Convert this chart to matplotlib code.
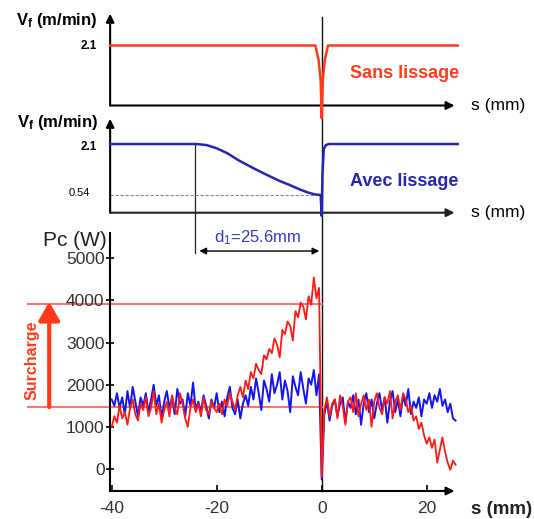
import numpy as np
import matplotlib
matplotlib.use("Agg")
import matplotlib.pyplot as plt

plt.rcParams["font.family"] = ["Liberation Sans", "DejaVu Sans"]
plt.rcParams["mathtext.fontset"] = "custom"
plt.rcParams["mathtext.rm"] = "Liberation Sans"
plt.rcParams["mathtext.bf"] = "Liberation Sans:bold"
plt.rcParams["mathtext.it"] = "Liberation Sans:italic"

# ---- data ----
# Vf without smoothing (red, top panel)
s_sans = [-40.3, -1.2, -0.6, -0.2, 0.0, 0.2, 0.6, 1.2, 25.9]
vf_sans = [2.1, 2.1, 1.6, 0.9, -0.44, 0.9, 1.6, 2.1, 2.1]

# Vf with smoothing (blue, middle panel)
s_avec = [-40.3, -23.9, -22.0, -20.0, -18.0, -15.8, -13.0, -10.5, -8.0, -6.0,
          -4.0, -2.5, -1.3, -0.2, 0.0, 0.15, 0.4, 0.8, 1.4, 25.9]
vf_avec = [2.1, 2.1, 2.07, 1.97, 1.82, 1.60, 1.36, 1.16, 0.97, 0.84,
           0.70, 0.61, 0.56, 0.54, -0.1, 1.2, 1.95, 2.07, 2.1, 2.1]

# cutting power Pc (W), sampled every 0.5 mm
s_left = np.arange(-40, 0, 0.5)
s_right = np.arange(0.5, 26, 0.5)
s_pc = np.concatenate([s_left, [0.0], s_right])

pc_sans_left = [
    1000, 1250, 1100, 1500, 1200, 1350, 1050, 1450, 1650, 1300, 1150, 1550, 1400, 1700, 1250, 1450, 1850, 1300, 1550, 1100, 1400,
    1600, 1250, 1750, 1450, 1300, 1800, 1550, 1200, 1000, 1450, 1650, 1350, 1550, 1250, 1700, 1400, 1300, 1600, 1450, 1350,
    1550, 1300, 1650, 1500, 1800, 1600, 1400, 1750, 1950, 1700,
    2100, 1900, 2300, 2150, 2500, 2350, 2250, 2700, 2600, 2850,
    2750, 3100, 2950, 2650, 3300, 3200, 3500, 3400, 3050, 3750,
    3600, 3950, 3850, 3550, 4100, 3900, 4550, 4050, 4300,
]
pc_sans_right = [
    1400, 1700, 1250, 1550, 1650, 1200, 1750, 1500, 1050, 1600,
    1700, 1350, 1800, 1250, 1550, 1750, 1400, 1650, 1000, 1600,
    1800, 1450, 1300, 1700, 1550, 1850, 1200, 1600, 1750, 1400,
    1800, 1650, 1350, 1500, 1150, 1250, 950, 1100, 800, 600,
    750, 500, 700, 150, 450, 750, 400, 150, -20, 200, 100,
]
pc_avec_left = [
    1650, 1500, 1800, 1450, 1700, 1300, 1850, 1450, 1950, 1600, 1250, 1700, 1500, 1800, 1350, 1650, 2000, 1500, 1750, 1200, 1600,
    1850, 1450, 1700, 1300, 1900, 1550, 1650, 1250, 1800, 1500, 2050, 1400, 1600, 1350, 1750, 1500, 1200, 1650, 1450, 1800,
    1350, 1600, 1250, 1700, 1950, 1450, 1300, 1650, 1200, 1550,
    1750, 1500, 1950, 1650, 2150, 1800, 1400, 2100, 1900, 1600,
    2250, 1800, 2000, 2300, 1650, 2100, 1850, 1350, 2200, 1950,
    1750, 2300, 1900, 1550, 2150, 2000, 2350, 1750, 2250,
]
pc_avec_right = [
    1300, 1600, 1150, 1500, 1650, 1250, 1550, 1700, 1100, 1600,
    1450, 1750, 1300, 1650, 1050, 1550, 1800, 1350, 1650, 1200,
    1550, 1800, 1400, 1700, 1100, 1600, 1850, 1350, 1650, 1250,
    1750, 1500, 1900, 1300, 1600, 1450, 1700, 1250, 1650, 1550,
    1800, 1450, 1750, 1600, 1900, 1500, 1650, 1350, 1550, 1200, 1150,
]
pc_sans = pc_sans_left + [-200] + pc_sans_right
pc_avec = pc_avec_left + [-250] + pc_avec_right

pc_ticks = [0, 1000, 2000, 3000, 4000, 5000]
s_ticks = [-40, -20, 0, 20]
overload_low, overload_high = 1470, 3910
d1_start = -24.1

# ---- layout helpers (figure pixels) ----
W, H = 534, 519
X0_PX, PX_PER_MM = 321.7, 5.25
RED = "#ff1a10"
ORANGE = "#ff3a1a"
BLUE = "#1414f0"
NAVY = "#2626b4"

fig = plt.figure(figsize=(W / 100, H / 100), dpi=100)


def add_panel(top, bottom, ref_px, ref_val, px_per_unit):
    ax = fig.add_axes([100 / W, 1 - bottom / H, 370 / W, (bottom - top) / H])
    ax.set_xlim((100 - X0_PX) / PX_PER_MM, (470 - X0_PX) / PX_PER_MM)
    ax.set_ylim(ref_val - (bottom - ref_px) / px_per_unit,
                ref_val + (ref_px - top) / px_per_unit)
    ax.patch.set_alpha(0)
    return ax


def arrow_axis(ax, start, end, color="black", lw=1.5):
    ax.annotate("", xy=end, xytext=start, annotation_clip=False,
                arrowprops=dict(arrowstyle="-|>", color=color, lw=lw,
                                mutation_scale=12, shrinkA=0, shrinkB=0))


# bottom panel first so its long guide lines sit under the top panels
ax3 = add_panel(228, 500, 469, 0, 0.04213)
ax1 = add_panel(5, 125, 105.5, 0, 28.57)
ax2 = add_panel(112, 225, 212.7, 0, 32.7)

# ---- top panel ----
ax1.axis("off")
arrow_axis(ax1, (-40.3, 0), (-40.3, 3.21))
arrow_axis(ax1, (-40.3, 0), (25.3, 0))
ax1.plot(s_sans, vf_sans, color=ORANGE, lw=1.8, clip_on=False, zorder=3)
ax1.text(-50.5, 2.975, r"V$_\mathbf{f}$ (m/min)", fontsize=12, fontweight="bold",
         ha="center", va="center")
ax1.text(-44.3, 2.1, "2.1", fontsize=8.5, fontweight="bold", ha="center", va="center")
ax1.text(15.8, 1.12, "Sans lissage", fontsize=13, fontweight="bold", color=ORANGE,
         ha="center", va="center")
ax1.text(33.6, 0.0, "s (mm)", fontsize=12.5, ha="center", va="center")

# ---- middle panel ----
ax2.axis("off")
arrow_axis(ax2, (-40.3, 0), (-40.3, 2.87))
arrow_axis(ax2, (-40.3, 0), (25.3, 0), color="#222222")
ax2.plot([-40.3, -0.3], [0.54, 0.54], color="#888888", lw=0.8, ls=(0, (3, 1.5)))
ax2.plot(s_avec, vf_avec, color=NAVY, lw=1.8, clip_on=False, zorder=3)
ax2.text(-50.2, 2.77, r"V$_\mathbf{f}$ (m/min)", fontsize=12, fontweight="bold",
         ha="center", va="center")
ax2.text(-44.3, 2.0, "2.1", fontsize=8.5, fontweight="bold", ha="center", va="center")
ax2.text(-46.1, 0.6, "0.54", fontsize=8, ha="center", va="center")
ax2.text(15.8, 0.94, "Avec lissage", fontsize=13, fontweight="bold", color=NAVY,
         ha="center", va="center")
ax2.text(33.6, 0.02, "s (mm)", fontsize=12.5, ha="center", va="center")

# ---- bottom panel ----
for side in ("top", "right"):
    ax3.spines[side].set_visible(False)
ax3.spines["left"].set_position(("data", -40.3))
ax3.spines["left"].set_bounds(-522, 5594)
ax3.spines["bottom"].set_position(("data", -522))
ax3.spines["bottom"].set_bounds(-40.3, 24)
for side in ("left", "bottom"):
    ax3.spines[side].set_linewidth(1.5)
arrow_axis(ax3, (23, -522), (25.3, -522))

ax3.set_yticks(pc_ticks)
ax3.set_yticklabels([str(t) for t in pc_ticks])
ax3.set_xticks(s_ticks)
ax3.set_xticklabels([str(t) for t in s_ticks])
ax3.tick_params(axis="y", direction="inout", length=6, width=1.2, pad=1,
                labelsize=12.5, labelcolor="#333333")
ax3.tick_params(axis="x", direction="in", length=4, width=1.2, pad=7,
                labelsize=12.5, labelcolor="#333333")

# guide lines through the three panels
ax3.plot([0, 0], [-522, 10729], color="#111111", lw=1.0, clip_on=False, zorder=1)
ax3.plot([d1_start, d1_start], [5120, 7714], color="#222222", lw=0.9,
         clip_on=False, zorder=1)

ax3.plot(s_pc, pc_avec, color=BLUE, lw=1.4, zorder=2)
ax3.plot(s_pc, pc_sans, color=RED, lw=1.3, zorder=3)

# overload annotation
for level in (overload_low, overload_high):
    ax3.plot([-55.9, 0], [level, level], color="#ff5a5a", lw=1.5, clip_on=False,
             zorder=1.5, alpha=0.85)
ax3.annotate("", xy=(-51.9, 3970), xytext=(-51.9, overload_low), annotation_clip=False,
             arrowprops=dict(arrowstyle="-|>,head_length=0.7,head_width=0.4", lw=3,
                             color=ORANGE, shrinkA=0, shrinkB=0, mutation_scale=16))
ax3.text(-55.1, 2587, "Surcharge", rotation=90, fontsize=11.5, fontweight="bold",
         color=ORANGE, ha="center", va="center")

# d1 annotation
ax3.annotate("", xy=(-0.46, 5174), xytext=(-23.3, 5174), annotation_clip=False,
             arrowprops=dict(arrowstyle="<|-|>", color="black", lw=1.0,
                             mutation_scale=10, shrinkA=0, shrinkB=0))
ax3.text(-12.2, 5483, r"d$_1$=25.6mm", fontsize=12, color="#3838c8",
         ha="center", va="center")

ax3.text(-47.0, 5412, "Pc (W)", fontsize=15, color="#222222", ha="center", va="center")
ax3.text(34.2, -973, "s (mm)", fontsize=13.5, fontweight="bold", color="#222222",
         ha="center", va="center")

fig.savefig("out.png", dpi=100)
plt.close(fig)
